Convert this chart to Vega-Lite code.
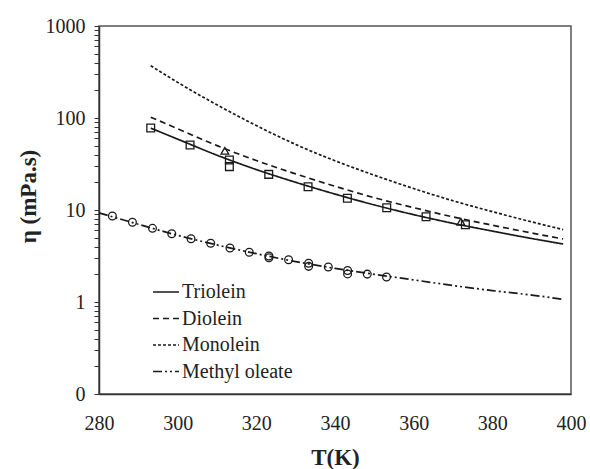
{
  "$schema": "https://vega.github.io/schema/vega-lite/v6.json",
  "width": 472,
  "height": 368,
  "autosize": {"type": "none"},
  "padding": {"left": 99, "top": 26, "right": 19, "bottom": 75},
  "background": "white",
  "config": {
    "font": "Liberation Serif",
    "view": {"stroke": "#555", "strokeWidth": 1.5}
  },
  "datasets": {
    "lines": [
      {"series": "Triolein", "T": 293.15, "eta": 77.6},
      {"series": "Triolein", "T": 300, "eta": 58.9},
      {"series": "Triolein", "T": 310, "eta": 39.4},
      {"series": "Triolein", "T": 320, "eta": 27.5},
      {"series": "Triolein", "T": 330, "eta": 20.0},
      {"series": "Triolein", "T": 340, "eta": 14.9},
      {"series": "Triolein", "T": 350, "eta": 11.35},
      {"series": "Triolein", "T": 360, "eta": 8.9},
      {"series": "Triolein", "T": 370, "eta": 7.16},
      {"series": "Triolein", "T": 380, "eta": 5.9},
      {"series": "Triolein", "T": 390, "eta": 4.9},
      {"series": "Triolein", "T": 398, "eta": 4.27},
      {"series": "Diolein", "T": 293.15, "eta": 102},
      {"series": "Diolein", "T": 300, "eta": 76.4},
      {"series": "Diolein", "T": 310, "eta": 50.1},
      {"series": "Diolein", "T": 320, "eta": 34.5},
      {"series": "Diolein", "T": 330, "eta": 24.7},
      {"series": "Diolein", "T": 340, "eta": 18.1},
      {"series": "Diolein", "T": 350, "eta": 13.6},
      {"series": "Diolein", "T": 360, "eta": 10.6},
      {"series": "Diolein", "T": 370, "eta": 8.41},
      {"series": "Diolein", "T": 380, "eta": 6.84},
      {"series": "Diolein", "T": 390, "eta": 5.62},
      {"series": "Diolein", "T": 398, "eta": 4.84},
      {"series": "Monolein", "T": 293.15, "eta": 370},
      {"series": "Monolein", "T": 300, "eta": 244},
      {"series": "Monolein", "T": 310, "eta": 139},
      {"series": "Monolein", "T": 320, "eta": 82.8},
      {"series": "Monolein", "T": 330, "eta": 51.6},
      {"series": "Monolein", "T": 340, "eta": 34.3},
      {"series": "Monolein", "T": 350, "eta": 23.9},
      {"series": "Monolein", "T": 360, "eta": 17.1},
      {"series": "Monolein", "T": 370, "eta": 12.6},
      {"series": "Monolein", "T": 380, "eta": 9.6},
      {"series": "Monolein", "T": 390, "eta": 7.43},
      {"series": "Monolein", "T": 398, "eta": 6.12},
      {"series": "Methyl oleate", "T": 280, "eta": 9.3},
      {"series": "Methyl oleate", "T": 290, "eta": 7.0},
      {"series": "Methyl oleate", "T": 300, "eta": 5.3},
      {"series": "Methyl oleate", "T": 310, "eta": 4.17},
      {"series": "Methyl oleate", "T": 320, "eta": 3.35},
      {"series": "Methyl oleate", "T": 330, "eta": 2.75},
      {"series": "Methyl oleate", "T": 340, "eta": 2.32},
      {"series": "Methyl oleate", "T": 350, "eta": 2.0},
      {"series": "Methyl oleate", "T": 360, "eta": 1.74},
      {"series": "Methyl oleate", "T": 370, "eta": 1.51},
      {"series": "Methyl oleate", "T": 380, "eta": 1.33},
      {"series": "Methyl oleate", "T": 390, "eta": 1.19},
      {"series": "Methyl oleate", "T": 398, "eta": 1.07}
    ],
    "points": [
      {"marker": "square", "T": 293.15, "eta": 77.8},
      {"marker": "square", "T": 303.15, "eta": 51},
      {"marker": "square", "T": 313.15, "eta": 34.9},
      {"marker": "square", "T": 313.15, "eta": 29.6},
      {"marker": "square", "T": 323.15, "eta": 24.4},
      {"marker": "square", "T": 333.15, "eta": 17.9},
      {"marker": "square", "T": 343.15, "eta": 13.4},
      {"marker": "square", "T": 353.15, "eta": 10.6},
      {"marker": "square", "T": 363.15, "eta": 8.45},
      {"marker": "square", "T": 373.15, "eta": 6.92},
      {"marker": "triangle", "T": 312, "eta": 44},
      {"marker": "triangle", "T": 372, "eta": 7.46},
      {"marker": "circle", "T": 283.4, "eta": 8.6},
      {"marker": "circle", "T": 288.5, "eta": 7.35},
      {"marker": "circle", "T": 293.6, "eta": 6.32},
      {"marker": "circle", "T": 298.5, "eta": 5.52},
      {"marker": "circle", "T": 303.4, "eta": 4.87},
      {"marker": "circle", "T": 308.4, "eta": 4.35},
      {"marker": "circle", "T": 313.3, "eta": 3.86},
      {"marker": "circle", "T": 318.2, "eta": 3.47},
      {"marker": "circle", "T": 323.2, "eta": 3.16},
      {"marker": "circle", "T": 323.2, "eta": 3.02},
      {"marker": "circle", "T": 328.2, "eta": 2.88},
      {"marker": "circle", "T": 333.3, "eta": 2.64},
      {"marker": "circle", "T": 333.3, "eta": 2.44},
      {"marker": "circle", "T": 338.3, "eta": 2.4},
      {"marker": "circle", "T": 343.2, "eta": 2.2},
      {"marker": "circle", "T": 343.2, "eta": 2.02},
      {"marker": "circle", "T": 348.2, "eta": 2.01},
      {"marker": "circle", "T": 353.1, "eta": 1.87}
    ]
  },
  "layer": [
    {
      "data": {"name": "lines"},
      "mark": {"type": "line", "interpolate": "monotone", "strokeWidth": 1.7, "color": "#1a1a1a"},
      "encoding": {
        "x": {
          "field": "T", "type": "quantitative",
          "scale": {"domain": [280, 400], "nice": false, "zero": false},
          "axis": {
            "values": [280, 300, 320, 340, 360, 380, 400],
            "ticks": false, "grid": false,
            "labelPadding": 19, "labelFontSize": 20, "labelColor": "#222", "labelFlush": false,
            "domainColor": "#333", "domainWidth": 1.5,
            "title": "T(K)", "titleFontSize": 23, "titleFontWeight": "bold", "titleColor": "#222",
            "titleY": 63, "titleBaseline": "middle"
          }
        },
        "y": {
          "field": "eta", "type": "quantitative",
          "scale": {"type": "log", "domain": [0.1, 1000], "nice": false},
          "axis": {
            "values": [0.1, 0.2, 0.3, 0.4, 0.5, 0.6, 0.7, 0.8, 0.9, 1, 2, 3, 4, 5, 6, 7, 8, 9, 10, 20, 30, 40, 50, 60, 70, 80, 90, 100, 200, 300, 400, 500, 600, 700, 800, 900, 1000],
            "format": "d",
            "labelExpr": "indexof([0.1, 1, 10, 100, 1000], datum.value) >= 0 ? datum.label : ''",
            "labelOverlap": false, "labelFontSize": 20, "labelColor": "#222", "labelPadding": 9,
            "tickSize": 5, "tickColor": "#333", "grid": false,
            "domainColor": "#333", "domainWidth": 1.5,
            "title": "η (mPa.s)", "titleFontSize": 23, "titleFontWeight": "bold", "titleColor": "#222",
            "titleX": -71, "titleY": 170, "titleAngle": -90, "titleBaseline": "middle", "titleAlign": "center"
          }
        },
        "strokeDash": {
          "field": "series", "type": "nominal",
          "scale": {
            "domain": ["Triolein", "Diolein", "Monolein", "Methyl oleate"],
            "range": [[1, 0], [6, 4], [3, 2], [9, 3, 2, 3, 2, 3]]
          },
          "legend": {
            "orient": "none", "legendX": 53, "legendY": 252, "title": null,
            "symbolType": "stroke", "symbolSize": 676, "symbolStrokeWidth": 1.7,
            "symbolStrokeColor": "#1a1a1a",
            "labelFontSize": 20, "labelColor": "#222", "labelOffset": 2,
            "rowPadding": 2.5, "padding": 0
          }
        }
      }
    },
    {
      "data": {"name": "points"},
      "mark": {"type": "point", "filled": false, "size": 60, "strokeWidth": 1.3, "color": "#1a1a1a", "opacity": 1},
      "encoding": {
        "x": {"field": "T", "type": "quantitative"},
        "y": {"field": "eta", "type": "quantitative"},
        "shape": {
          "field": "marker", "type": "nominal",
          "scale": {"domain": ["square", "triangle", "circle"], "range": ["square", "triangle-up", "circle"]},
          "legend": null
        }
      }
    }
  ]
}
